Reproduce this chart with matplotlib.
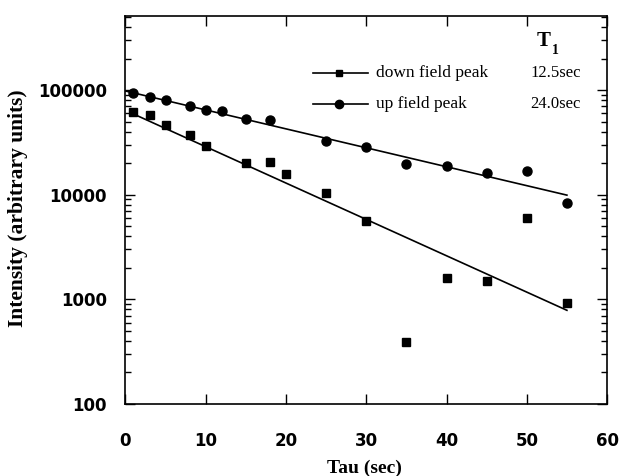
import numpy as np
import matplotlib
matplotlib.use("Agg")
from matplotlib import pyplot as plt
from matplotlib.ticker import LogLocator, FixedLocator, NullFormatter

# measured points
tau_up = [1, 3, 5, 8, 10, 12, 15, 18, 25, 30, 35, 40, 45, 50, 55]
up_field = [93000, 86000, 81000, 70000, 64000, 63500, 52500, 52000, 32600,
            28800, 19800, 18700, 16000, 17000, 8400]

tau_down = [1, 3, 5, 8, 10, 15, 18, 20, 25, 30, 35, 40, 45, 50, 55]
down_field = [62000, 57300, 46700, 36900, 29400, 20200, 20500, 15900, 10300,
              5560, 390, 1600, 1500, 6030, 920]

# single-exponential fits (amplitude, T1 in sec, tau range)
fit_up = (98000, 24.0, (0, 55))
fit_down = (64000, 12.5, (1, 55))

labels = ["down field peak", "up field peak"]
t1_labels = ["12.5sec", "24.0sec"]

serif = "Liberation Serif"

fig = plt.figure(figsize=(6.23, 4.76), dpi=100)
ax = fig.add_axes([0.2014, 0.1513, 0.773, 0.815])

def fit_curve(p):
    a, t1, (t0, t_end) = p
    t = np.linspace(t0, t_end, 100)
    return t, a * np.exp(-t / t1)

t, y = fit_curve(fit_down)
ax.plot(t, y, color="black", lw=1.2)
t, y = fit_curve(fit_up)
ax.plot(t, y, color="black", lw=1.2)

ax.plot(tau_down, down_field, "s", color="black", ms=5.5)
ax.plot(tau_up, up_field, "o", color="black", ms=6.5)

ax.set_yscale("log")
ax.set_xlim(0, 60)
ax.set_ylim(100, 5.1e5)
ax.xaxis.set_major_locator(FixedLocator([0, 10, 20, 30, 40, 50, 60]))
ax.yaxis.set_major_locator(FixedLocator([100, 1000, 10000, 100000]))
ax.yaxis.set_minor_locator(LogLocator(base=10, subs=np.arange(2, 10)))
ax.yaxis.set_minor_formatter(NullFormatter())
ax.set_yticklabels(["100", "1000", "10000", "100000"])

ax.tick_params(which="both", direction="in", top=True, right=True, width=1)
ax.tick_params(which="major", length=7)
ax.tick_params(which="minor", length=4)
ax.tick_params(axis="x", pad=20)
ax.tick_params(axis="y", pad=13.5)
for lab in ax.get_xticklabels() + ax.get_yticklabels():
    lab.set_fontsize(12)
    lab.set_fontweight("bold")
    lab.set_family("DejaVu Sans")
for s in ax.spines.values():
    s.set_linewidth(1.2)

ax.set_xlabel("Tau (sec)", fontsize=14, fontweight="bold", family=serif)
ax.set_ylabel("Intensity (arbitrary units)", fontsize=15.5, fontweight="bold", family=serif)
ax.xaxis.set_label_coords(0.497, -0.143)
ax.yaxis.set_label_coords(-0.202, 0.505)

# legend
rows = [0.853, 0.773]
markers = ["s", "o"]
msizes = [5, 6]
for r, m, ms, lab, tl in zip(rows, markers, msizes, labels, t1_labels):
    ax.plot([0.39, 0.503], [r, r], color="black", lw=1.2, transform=ax.transAxes)
    ax.plot([0.444], [r], m, color="black", ms=ms, transform=ax.transAxes)
    ax.text(0.52, r, lab, transform=ax.transAxes, fontsize=12.5, family=serif,
            va="center", ha="left")
    ax.text(0.945, r, tl, transform=ax.transAxes, fontsize=12, family=serif,
            va="center", ha="right")
ax.text(0.882, 0.935, "T", transform=ax.transAxes, fontsize=15,
        fontweight="bold", family=serif, ha="right", va="center")
ax.text(0.886, 0.912, "1", transform=ax.transAxes, fontsize=10,
        fontweight="bold", family=serif, ha="left", va="center")

fig.savefig("out.png", dpi=100)
